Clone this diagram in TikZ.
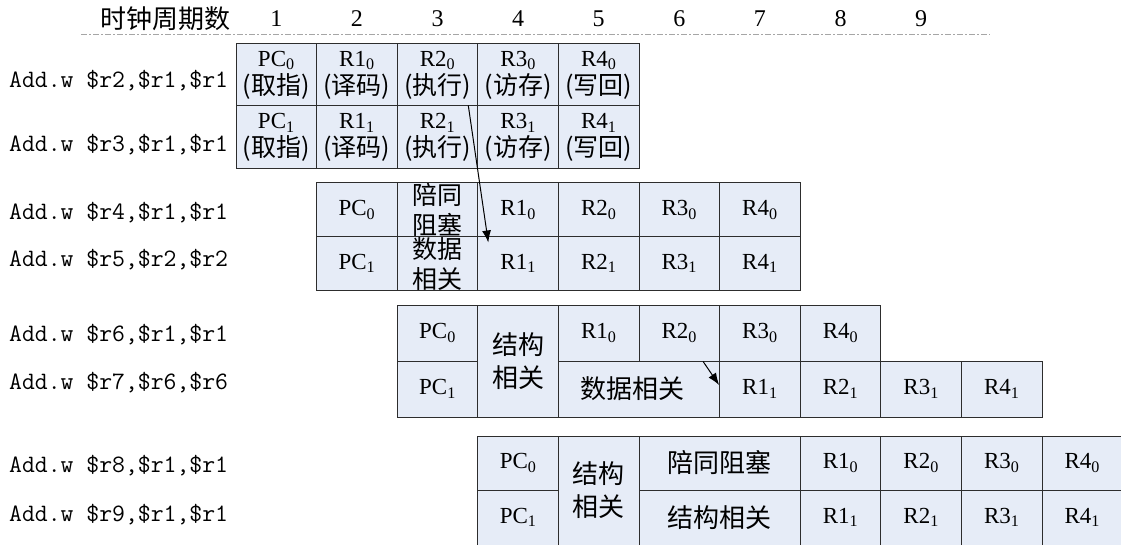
\documentclass[tikz,border=0pt]{standalone}
\usepackage{fontspec}
\setmainfont{Liberation Serif}
\newfontfamily\cjk{Noto Sans CJK SC}
\usetikzlibrary{arrows.meta}
\definecolor{cellblue}{RGB}{230,236,247}
\definecolor{gridline}{RGB}{45,45,45}
\newcommand{\stagename}[1]{{\cjk\fontsize{25}{28}\selectfont(#1)}}
\tikzset{
  flowarrow/.style={-{Latex[length=12pt,width=9pt]}, line width=1pt},
  cell/.style={draw=gridline, fill=cellblue, line width=1pt, inner sep=0pt, minimum width=80.6pt, minimum height=54pt, align=center, font=\fontsize{23}{28}\selectfont},
  widecell/.style={cell, minimum width=161.2pt},
  hanzi/.style={font=\cjk\fontsize{26}{33}\selectfont},
  tighthanzi/.style={font=\cjk\fontsize{25}{30}\selectfont},
  instr/.style={anchor=base west, inner sep=0pt, font=\ttfamily\fontsize{25}{26}\selectfont},
  ruler/.style={gray!70, line width=1pt, dash pattern=on 6pt off 2pt on 2pt off 2pt}
}

\begin{document}
\begin{tikzpicture}[x=1pt, y=-1pt]
  \useasboundingbox (0,0) rectangle (1121,545);
  \node[hanzi] (cycles) at (165,19) {时钟周期数};
  \foreach \i in {1,...,9}
    \node[font=\fontsize{24}{26}\selectfont] (tick\i) at ({236+80.6*(\i-0.5)},19) {\i};
  \coordinate (ruleL) at (81,35);
  \coordinate (ruleR) at (990,35);
  \draw[ruler] (ruleL) -- (ruleR);

  \node[instr] (ins1) at (9,88) {Add.w \$r2,\$r1,\$r1};
  \node[instr] (ins2) at (9,152) {Add.w \$r3,\$r1,\$r1};
  \node[instr] (ins3) at (9,220) {Add.w \$r4,\$r1,\$r1};
  \node[instr] (ins4) at (9,267) {Add.w \$r5,\$r2,\$r2};
  \node[instr] (ins5) at (9,341) {Add.w \$r6,\$r1,\$r1};
  \node[instr] (ins6) at (9,389) {Add.w \$r7,\$r6,\$r6};
  \node[instr] (ins7) at (9,472) {Add.w \$r8,\$r1,\$r1};
  \node[instr] (ins8) at (9,521) {Add.w \$r9,\$r1,\$r1};

  \node[cell, minimum height=62pt] (g1pc0) at (276.3,75) {PC\textsubscript{0}\\\stagename{取指}};
  \node[cell, minimum height=62pt] (g1r10) at (356.9,75) {R1\textsubscript{0}\\\stagename{译码}};
  \node[cell, minimum height=62pt] (g1r20) at (437.5,75) {R2\textsubscript{0}\\\stagename{执行}};
  \node[cell, minimum height=62pt] (g1r30) at (518.1,75) {R3\textsubscript{0}\\\stagename{访存}};
  \node[cell, minimum height=62pt] (g1r40) at (598.7,75) {R4\textsubscript{0}\\\stagename{写回}};
  \node[cell, minimum height=63pt] (g1pc1) at (276.3,137.5) {PC\textsubscript{1}\\\stagename{取指}};
  \node[cell, minimum height=63pt] (g1r11) at (356.9,137.5) {R1\textsubscript{1}\\\stagename{译码}};
  \node[cell, minimum height=63pt] (g1r21) at (437.5,137.5) {R2\textsubscript{1}\\\stagename{执行}};
  \node[cell, minimum height=63pt] (g1r31) at (518.1,137.5) {R3\textsubscript{1}\\\stagename{访存}};
  \node[cell, minimum height=63pt] (g1r41) at (598.7,137.5) {R4\textsubscript{1}\\\stagename{写回}};

  \node[cell] (g2pc0) at (356.9,210) {PC\textsubscript{0}};
  \node[cell, tighthanzi] (g2stall) at (437.5,210) {陪同\\阻塞};
  \node[cell] (g2r10) at (518.1,210) {R1\textsubscript{0}};
  \node[cell] (g2r20) at (598.7,210) {R2\textsubscript{0}};
  \node[cell] (g2r30) at (679.3,210) {R3\textsubscript{0}};
  \node[cell] (g2r40) at (759.9,210) {R4\textsubscript{0}};
  \node[cell, minimum height=53pt] (g2pc1) at (356.9,263.5) {PC\textsubscript{1}};
  \node[cell, tighthanzi, minimum height=53pt] (g2data) at (437.5,263.5) {数据\\相关};
  \node[cell, minimum height=53pt] (g2r11) at (518.1,263.5) {R1\textsubscript{1}};
  \node[cell, minimum height=53pt] (g2r21) at (598.7,263.5) {R2\textsubscript{1}};
  \node[cell, minimum height=53pt] (g2r31) at (679.3,263.5) {R3\textsubscript{1}};
  \node[cell, minimum height=53pt] (g2r41) at (759.9,263.5) {R4\textsubscript{1}};

  \node[cell, minimum height=56pt] (g3pc0) at (437.5,333) {PC\textsubscript{0}};
  \node[cell, hanzi, minimum height=112pt] (g3struct) at (518.1,361) {结构\\相关};
  \node[cell, minimum height=56pt] (g3r10) at (598.7,333) {R1\textsubscript{0}};
  \node[cell, minimum height=56pt] (g3r20) at (679.3,333) {R2\textsubscript{0}};
  \node[cell, minimum height=56pt] (g3r30) at (759.9,333) {R3\textsubscript{0}};
  \node[cell, minimum height=56pt] (g3r40) at (840.5,333) {R4\textsubscript{0}};
  \node[cell, minimum height=56pt] (g3pc1) at (437.5,389) {PC\textsubscript{1}};
  \node[widecell, hanzi, minimum height=56pt] (g3data) at (639,389) {数据相关\hspace{14pt}};
  \node[cell, minimum height=56pt] (g3r11) at (759.9,389) {R1\textsubscript{1}};
  \node[cell, minimum height=56pt] (g3r21) at (840.5,389) {R2\textsubscript{1}};
  \node[cell, minimum height=56pt] (g3r31) at (921.1,389) {R3\textsubscript{1}};
  \node[cell, minimum height=56pt] (g3r41) at (1001.7,389) {R4\textsubscript{1}};

  \node[cell] (g4pc0) at (518.1,463) {PC\textsubscript{0}};
  \node[cell, hanzi, minimum height=109pt] (g4struct) at (598.7,490.5) {结构\\相关};
  \node[widecell, hanzi] (g4stall) at (719.6,463) {陪同阻塞};
  \node[cell] (g4r10) at (840.5,463) {R1\textsubscript{0}};
  \node[cell] (g4r20) at (921.1,463) {R2\textsubscript{0}};
  \node[cell] (g4r30) at (1001.7,463) {R3\textsubscript{0}};
  \node[cell] (g4r40) at (1082.3,463) {R4\textsubscript{0}};
  \node[cell, minimum height=55pt] (g4pc1) at (518.1,517.5) {PC\textsubscript{1}};
  \node[widecell, hanzi, minimum height=55pt] (g4struct2) at (719.6,517.5) {结构相关};
  \node[cell, minimum height=55pt] (g4r11) at (840.5,517.5) {R1\textsubscript{1}};
  \node[cell, minimum height=55pt] (g4r21) at (921.1,517.5) {R2\textsubscript{1}};
  \node[cell, minimum height=55pt] (g4r31) at (1001.7,517.5) {R3\textsubscript{1}};
  \node[cell, minimum height=55pt] (g4r41) at (1082.3,517.5) {R4\textsubscript{1}};

  \draw[flowarrow] ([xshift=-10pt]g1r21.north east) -- ([xshift=11pt,yshift=-6pt]g2r11.north west);
  \draw[flowarrow] ([xshift=-17pt]g3r20.south east) -- ([yshift=4pt]g3r11.west);
\end{tikzpicture}
\end{document}
